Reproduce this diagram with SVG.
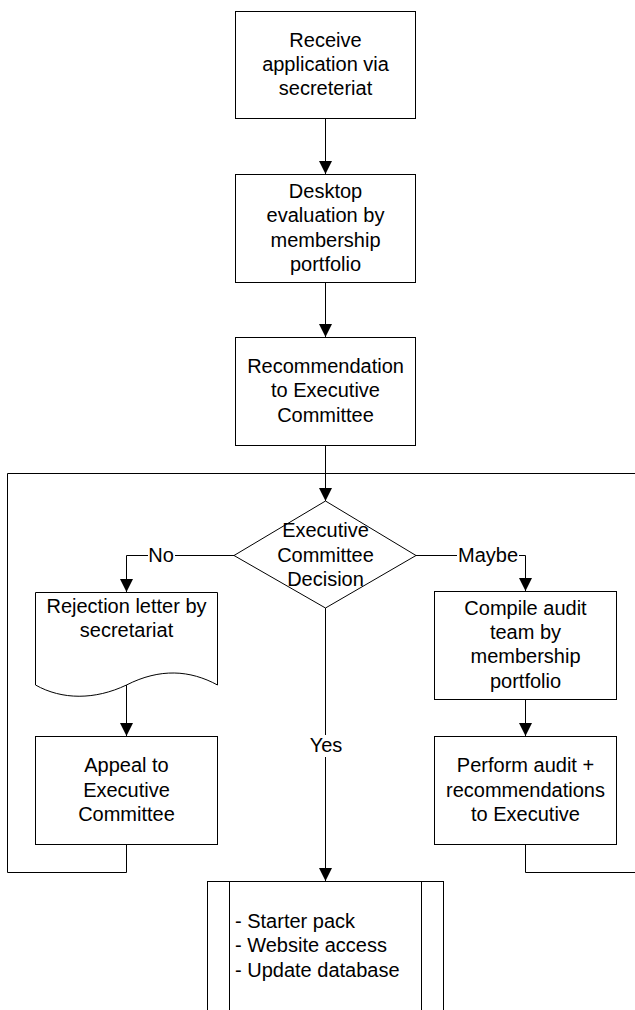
<svg xmlns="http://www.w3.org/2000/svg" width="635" height="1010" viewBox="0 0 635 1010">
<style>
.box{fill:#fff;stroke:#000;stroke-width:1}
.ln{fill:none;stroke:#000;stroke-width:1}
.t{font-family:"Liberation Sans",Arial,sans-serif;font-size:20px;fill:#000;text-anchor:middle}
.tl{font-family:"Liberation Sans",Arial,sans-serif;font-size:20px;fill:#000;text-anchor:start}
.lbg{fill:#fff;stroke:none}
</style>
<defs>
<marker id="ah" markerUnits="userSpaceOnUse" markerWidth="14" markerHeight="14" refX="13" refY="6.5" orient="auto">
<path d="M0,0 L13,6.5 L0,13 Z" fill="#000"/>
</marker>
</defs>
<rect width="635" height="1010" fill="#fff"/>
<g id="connectors">
<path class="ln" d="M325.5,118 V174" marker-end="url(#ah)"/>
<path class="ln" d="M325.5,282 V337" marker-end="url(#ah)"/>
<path class="ln" d="M325.5,445 V501" marker-end="url(#ah)"/>
<path class="ln" d="M126.5,845 V872.5 H7.5 V473.5 H640"/>
<path class="ln" d="M525.5,845 V872.5 H640"/>
<path class="ln" d="M234,555.5 H126.5 V592" marker-end="url(#ah)"/>
<rect class="lbg" x="148" y="544" width="27" height="22"/>
<text class="t" x="161" y="562">No</text>
<path class="ln" d="M416,555.5 H525.5 V591" marker-end="url(#ah)"/>
<rect class="lbg" x="457" y="544" width="62" height="22"/>
<text class="t" x="488" y="562">Maybe</text>
<path class="ln" d="M126.5,685 V736" marker-end="url(#ah)"/>
<path class="ln" d="M525.5,700 V736" marker-end="url(#ah)"/>
<path class="ln" d="M325.5,608 V881" marker-end="url(#ah)"/>
<rect class="lbg" x="309" y="735" width="34" height="22"/>
<text class="t" x="326" y="752">Yes</text>
</g>
<g id="n1">
<rect class="box" x="235.5" y="11.5" width="180" height="107"/>
<text class="t" x="325.5" y="47">Receive</text>
<text class="t" x="325.5" y="71">application via</text>
<text class="t" x="325.5" y="95">secreteriat</text>
</g>
<g id="n2">
<rect class="box" x="235.5" y="174.5" width="180" height="108"/>
<text class="t" x="325.5" y="198">Desktop</text>
<text class="t" x="325.5" y="222">evaluation by</text>
<text class="t" x="325.5" y="247">membership</text>
<text class="t" x="325.5" y="271">portfolio</text>
</g>
<g id="n3">
<rect class="box" x="235.5" y="337.5" width="180" height="108"/>
<text class="t" x="325.5" y="373">Recommendation</text>
<text class="t" x="325.5" y="397">to Executive</text>
<text class="t" x="325.5" y="422">Committee</text>
</g>
<g id="decision">
<path class="box" d="M325.5,501 L416,555.5 L325.5,608 L234,555.5 Z"/>
<text class="t" x="325.5" y="537">Executive</text>
<text class="t" x="325.5" y="562">Committee</text>
<text class="t" x="325.5" y="586">Decision</text>
</g>
<g id="rejection">
<path class="box" d="M35.5,592.5 H217.5 V685 C190,670 160,668 126.5,685 C95,700 62,700 35.5,685 Z"/>
<text class="t" x="126.5" y="613">Rejection letter by</text>
<text class="t" x="126.5" y="637">secretariat</text>
</g>
<g id="appeal">
<rect class="box" x="35.5" y="736.5" width="182" height="108"/>
<text class="t" x="126.5" y="772">Appeal to</text>
<text class="t" x="126.5" y="797">Executive</text>
<text class="t" x="126.5" y="821">Committee</text>
</g>
<g id="compile">
<rect class="box" x="434.5" y="591.5" width="182" height="108"/>
<text class="t" x="525.5" y="615">Compile audit</text>
<text class="t" x="525.5" y="639">team by</text>
<text class="t" x="525.5" y="663">membership</text>
<text class="t" x="525.5" y="688">portfolio</text>
</g>
<g id="perform">
<rect class="box" x="434.5" y="736.5" width="182" height="108"/>
<text class="t" x="525.5" y="772">Perform audit +</text>
<text class="t" x="525.5" y="797">recommendations</text>
<text class="t" x="525.5" y="821">to Executive</text>
</g>
<g id="welcome">
<rect class="box" x="207.5" y="881.5" width="236" height="140"/>
<line class="ln" x1="229.5" y1="881.5" x2="229.5" y2="1021"/>
<line class="ln" x1="421.5" y1="881.5" x2="421.5" y2="1021"/>
<text class="tl" x="235" y="928">- Starter pack</text>
<text class="tl" x="235" y="952">- Website access</text>
<text class="tl" x="235" y="977">- Update database</text>
</g>
</svg>
